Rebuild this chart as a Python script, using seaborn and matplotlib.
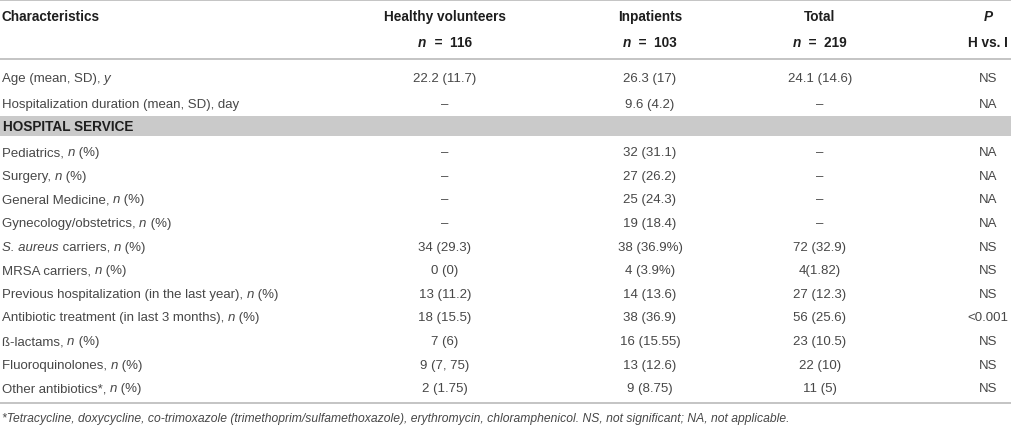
import matplotlib
matplotlib.use("Agg")
import matplotlib.pyplot as plt
import seaborn as sns

sns.set_theme(style="white")
plt.rcParams['font.family'] = ['Liberation Sans', 'DejaVu Sans']

# ---------------- data ----------------
col_headers = ["Characteristics", "Healthy volunteers", "Inpatients", "Total", "P"]
col_sub = ["", "116", "103", "219", "H vs. I"]

# "_" toggles italics inside a label
characteristics = [
    "Age (mean, SD), _y_",
    "Hospitalization duration (mean, SD), day",
    "HOSPITAL SERVICE",
    "Pediatrics, _n_ (%)",
    "Surgery, _n_ (%)",
    "General Medicine, _n_ (%)",
    "Gynecology/obstetrics, _n_ (%)",
    "_S. aureus_ carriers, _n_ (%)",
    "MRSA carriers, _n_ (%)",
    "Previous hospitalization (in the last year), _n_ (%)",
    "Antibiotic treatment (in last 3 months), _n_ (%)",
    "ß-lactams, _n_ (%)",
    "Fluoroquinolones, _n_ (%)",
    "Other antibiotics*, _n_ (%)",
]
healthy = ["22.2 (11.7)", "–", None, "–", "–", "–", "–", "34 (29.3)", "0 (0)",
           "13 (11.2)", "18 (15.5)", "7 (6)", "9 (7, 75)", "2 (1.75)"]
inpatients = ["26.3 (17)", "9.6 (4.2)", None, "32 (31.1)", "27 (26.2)", "25 (24.3)",
              "19 (18.4)", "38 (36.9%)", "4 (3.9%)", "14 (13.6)", "38 (36.9)",
              "16 (15.55)", "13 (12.6)", "9 (8.75)"]
total = ["24.1 (14.6)", "–", None, "–", "–", "–", "–", "72 (32.9)", "4(1.82)",
         "27 (12.3)", "56 (25.6)", "23 (10.5)", "22 (10)", "11 (5)"]
pvalues = ["NS", "NA", None, "NA", "NA", "NA", "NA", "NS", "NS", "NS", "<0.001",
           "NS", "NS", "NS"]
section_rows = ["HOSPITAL SERVICE"]
footnote = ("*Tetracycline, doxycycline, co-trimoxazole (trimethoprim/sulfamethoxazole), "
            "erythromycin, chloramphenicol. NS, not significant; NA, not applicable.")

# ---------------- layout ----------------
W, H = 1012, 427
fig = plt.figure(figsize=(W / 100, H / 100), dpi=100)
ax = fig.add_axes([0, 0, 1, 1])
ax.set_xlim(0, W)
ax.set_ylim(H, 0)
ax.axis("off")
renderer = fig.canvas.get_renderer()

BODY = 9.5
HEAD = 9.8
FOOT = 8.75
body_c = "#474747"
head_c = "#1e1e1e"
line_c = "#b4b4b4"

col_x = [2, 445, 650, 820, 988]
row_y = [78, 104, 127, 152, 175.6, 199.2, 222.8, 246.4, 270, 293.6, 317.2,
         340.8, 364.4, 388]
BASE = 4.3  # baseline offset from row centre


def style(size, color, weight="normal", italic=False):
    return dict(fontsize=size, color=color, fontweight=weight,
                fontstyle="italic" if italic else "normal")


def measure(s, kw):
    t = ax.text(0, 0, s, **kw)
    w = t.get_window_extent(renderer).width
    t.remove()
    return w


def run_width(s, kw):
    return measure(s + "|", kw) - measure("|", kw)


def draw_runs(x, y, runs, ha="left"):
    widths = [run_width(s, kw) for s, kw in runs]
    tot = sum(widths)
    x0 = x - tot / 2 if ha == "center" else (x - tot if ha == "right" else x)
    for (s, kw), w in zip(runs, widths):
        ax.text(x0, y + BASE, s, ha="left", va="baseline", **kw)
        x0 += w


def parse(label, size, color, weight="normal"):
    parts = label.split("_")
    return [(p, style(size, color, weight, italic=(i % 2 == 1)))
            for i, p in enumerate(parts) if p]


# rules and section band
for yl in (0.8, 60, 404):
    ax.axhline(yl, color=line_c, lw=1.1, xmin=0, xmax=1)
ax.axhspan(117, 137, xmin=0, xmax=1, color="#cacaca", lw=0)

# header
hy1, hy2 = 17, 43
draw_runs(col_x[0], hy1, [(col_headers[0], style(HEAD, head_c, "bold"))])
for k in (1, 2, 3):
    draw_runs(col_x[k], hy1, [(col_headers[k], style(HEAD, head_c, "bold"))], "center")
    draw_runs(col_x[k], hy2, [("n", style(HEAD, head_c, "bold", True)),
                              ("  =  " + col_sub[k], style(HEAD, head_c, "bold"))], "center")
draw_runs(col_x[4], hy1, [(col_headers[4], style(HEAD, head_c, "bold", True))], "center")
draw_runs(col_x[4], hy2, [(col_sub[4], style(HEAD, head_c, "bold"))], "center")

# body
for i, lab in enumerate(characteristics):
    y = row_y[i]
    if lab in section_rows:
        draw_runs(col_x[0] + 1, y, parse(lab, HEAD, head_c, "bold"))
        continue
    draw_runs(col_x[0], y, parse(lab, BODY, body_c))
    for k, col in zip((1, 2, 3, 4), (healthy, inpatients, total, pvalues)):
        if col[i] is not None:
            draw_runs(col_x[k], y, [(col[i], style(BODY, body_c))], "center")

# footnote
draw_runs(col_x[0], 418, [(footnote, style(FOOT, body_c, italic=True))])

fig.savefig("out.png", dpi=100)
